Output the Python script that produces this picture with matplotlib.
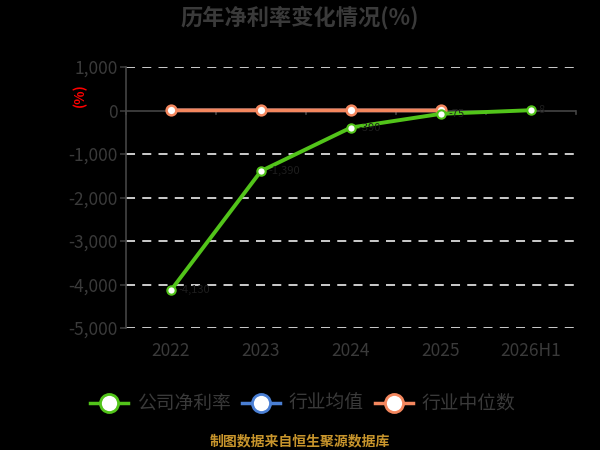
import numpy as np
import matplotlib
matplotlib.use("Agg")
import matplotlib.pyplot as plt
from matplotlib.lines import Line2D

plt.rcParams["font.family"] = ["Noto Sans CJK SC", "DejaVu Sans"]

# ---- data ----
years = ["2022", "2023", "2024", "2025", "2026H1"]
company = [-4130, -1390, -390, -75, 8]
industry_mean = [4, 4, 3, 2, np.nan]
industry_median = [5, 5, 4, 3, np.nan]

# ---- style ----
BG = "#000000"
GREEN = "#52c41a"
BLUE = "#4a7fd4"
ORANGE = "#f4875e"
INK = "#3a3a3a"
GRID = "#dcdcdc"
GOLD = "#c8952c"

fig = plt.figure(figsize=(6, 4.5), dpi=100)
fig.patch.set_facecolor(BG)
ax = fig.add_axes([0.21, 0.271, 0.75, 0.58])
ax.set_facecolor(BG)

x = np.arange(len(years))
ax.set_xlim(-0.5, len(years) - 0.5)
ax.set_ylim(-5000, 1000)
yt = np.arange(-5000, 1001, 1000)
ax.set_yticks(yt)
ax.set_yticklabels([f"{v:,}" for v in yt])
ax.set_xticks(x)
ax.set_xticklabels(years)

for v in yt:
    if v != 0:
        ax.axhline(v, color=GRID, lw=1.3, ls=(0, (5, 4)), zorder=1)
ax.axhline(0, color="#444444", lw=1.2, zorder=2)
for b in np.arange(-0.5, len(years), 1.0):
    ax.plot([b, b], [0, -80], color="#444444", lw=1.2, zorder=2, clip_on=False)

for sp in ("top", "right", "bottom"):
    ax.spines[sp].set_visible(False)
ax.spines["left"].set_color("#444444")
ax.spines["left"].set_linewidth(1.2)
ax.tick_params(axis="y", colors=INK, labelsize=12.5, length=4, width=1.2, pad=2)
ax.tick_params(axis="x", colors=INK, labelsize=12.5, length=0, pad=10)

ax.plot(x, industry_mean, color=BLUE, lw=2.5, marker="o", ms=6,
        mfc="white", mec=BLUE, mew=1.5, zorder=3)
ax.plot(x, industry_median, color=ORANGE, lw=2.8, marker="o", ms=7,
        mfc="white", mec=ORANGE, mew=1.8, zorder=4)
ax.plot(x, company, color=GREEN, lw=2.8, marker="o", ms=6,
        mfc="white", mec=GREEN, mew=1.5, zorder=5)
for xi, v in zip(x, company):
    ax.text(xi + 0.08, v, f"{v:,}", color="#1e1e1e", fontsize=8,
            ha="left", va="center", zorder=6)

ax.text(-0.102, 0.893, "(%)", transform=ax.transAxes, rotation=90,
        color="#ff0000", fontsize=10, fontweight="bold", ha="center", va="center")

fig.text(0.5, 0.962, "历年净利率变化情况(%)", ha="center", va="center",
         fontsize=16, fontweight="bold", color=INK)

# ---- legend ----
ly = 1 - 403 / 450
items = [("公司净利率", GREEN, 90), ("行业均值", BLUE, 242), ("行业中位数", ORANGE, 375)]
for label, col, px in items:
    fig.add_artist(Line2D([px / 600, (px + 38) / 600], [ly, ly], color=col, lw=2.5,
                          transform=fig.transFigure))
    fig.add_artist(Line2D([(px + 19) / 600], [ly], marker="o", ms=13, mfc="white",
                          mec=col, mew=2, transform=fig.transFigure))
    fig.text((px + 47) / 600, ly, label, ha="left", va="center",
             fontsize=13.5, color=INK)

fig.text(0.5, 1 - 441 / 450, "制图数据来自恒生聚源数据库", ha="center", va="center",
         fontsize=10, fontweight="bold", color=GOLD)

fig.savefig("out.png", facecolor=BG)
